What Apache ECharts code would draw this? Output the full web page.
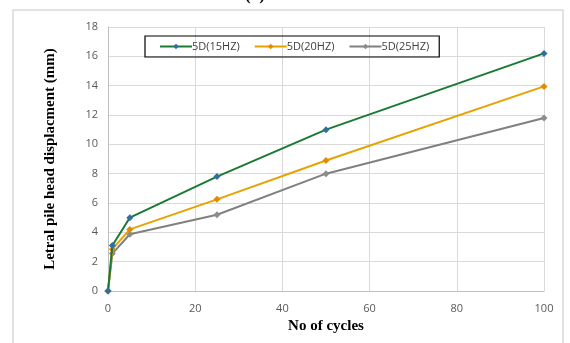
<!DOCTYPE html>
<html><head><meta charset="utf-8">
<script src="https://cdn.jsdelivr.net/npm/echarts@6/dist/echarts.min.js"></script>
<style>html,body{margin:0;padding:0;background:#fff}#c{width:570px;height:343px}</style>
</head><body><div id="c"></div>
<script>
const cycles = [0, 1, 5, 25, 50, 100];
const s15 = [0, 3.1, 5.0, 7.8, 11.0, 16.2];
const s20 = [0, 2.85, 4.2, 6.25, 8.9, 13.95];
const s25 = [0, 2.55, 3.87, 5.2, 8.0, 11.8];
const names = ['5D(15HZ)', '5D(20HZ)', '5D(25HZ)'];
const lineColors = ['#1a7a33', '#e8a200', '#808080'];
const markerColors = ['#2f6f9f', '#e58a00', '#8c8c8c'];
const pair = arr => cycles.map((c, i) => [c, arr[i]]);
const chart = echarts.init(document.getElementById('c'));
const series = [s15, s20, s25].map((d, i) => ({
  name: names[i], type: 'line', data: pair(d),
  symbol: 'diamond', symbolSize: 7, showSymbol: true,
  lineStyle: {color: lineColors[i], width: 2},
  itemStyle: {color: markerColors[i], borderWidth: 0},
  color: lineColors[i], z: 3 - i
}));
chart.setOption({
  animation: false,
  graphic: [
    {type: 'rect', shape: {x: 13, y: 10, width: 550, height: 340}, style: {fill: 'none', stroke: '#d9d9d9', lineWidth: 1.5}, z: -1},
    {type: 'text', left: 245, top: -13, style: {text: '(a)', font: 'bold 17px "Liberation Serif"', fill: '#000'}}
  ],
  grid: {left: 108, right: 26, top: 27, bottom: 52},
  legend: {
    data: names.map((n, i) => ({name: n, itemStyle: {color: markerColors[i]}})),
    left: 145, top: 36, width: 298, height: 23,
    padding: [5, 10, 5, 14], itemGap: 14, itemWidth: 32, itemHeight: 7,
    borderColor: '#000', borderWidth: 1.2,
    textStyle: {fontFamily: 'Open Sans', fontSize: 11, color: '#404040', padding: [0, 0, 0, -5]}
  },
  xAxis: {
    type: 'value', min: 0, max: 100, interval: 20,
    name: 'No of cycles', nameLocation: 'middle', nameGap: 28,
    nameTextStyle: {fontFamily: 'Liberation Serif', fontWeight: 'bold', fontSize: 15, color: '#000'},
    axisLine: {show: true, lineStyle: {color: '#bfbfbf', width: 1}},
    axisTick: {show: false},
    axisLabel: {fontFamily: 'Open Sans', fontSize: 11, color: '#595959', margin: 12},
    splitLine: {show: true, lineStyle: {color: '#d9d9d9', width: 1}}
  },
  yAxis: {
    type: 'value', min: 0, max: 18, interval: 2,
    name: 'Letral pile head displacment (mm)', nameLocation: 'middle', nameGap: 50,
    nameTextStyle: {fontFamily: 'Liberation Serif', fontWeight: 'bold', fontSize: 15, color: '#000'},
    axisLine: {show: true, lineStyle: {color: '#bfbfbf', width: 1}},
    axisTick: {show: false},
    axisLabel: {fontFamily: 'Open Sans', fontSize: 11, color: '#595959', margin: 10},
    splitLine: {show: true, lineStyle: {color: '#d9d9d9', width: 1}}
  },
  series: series
});
</script></body></html>
